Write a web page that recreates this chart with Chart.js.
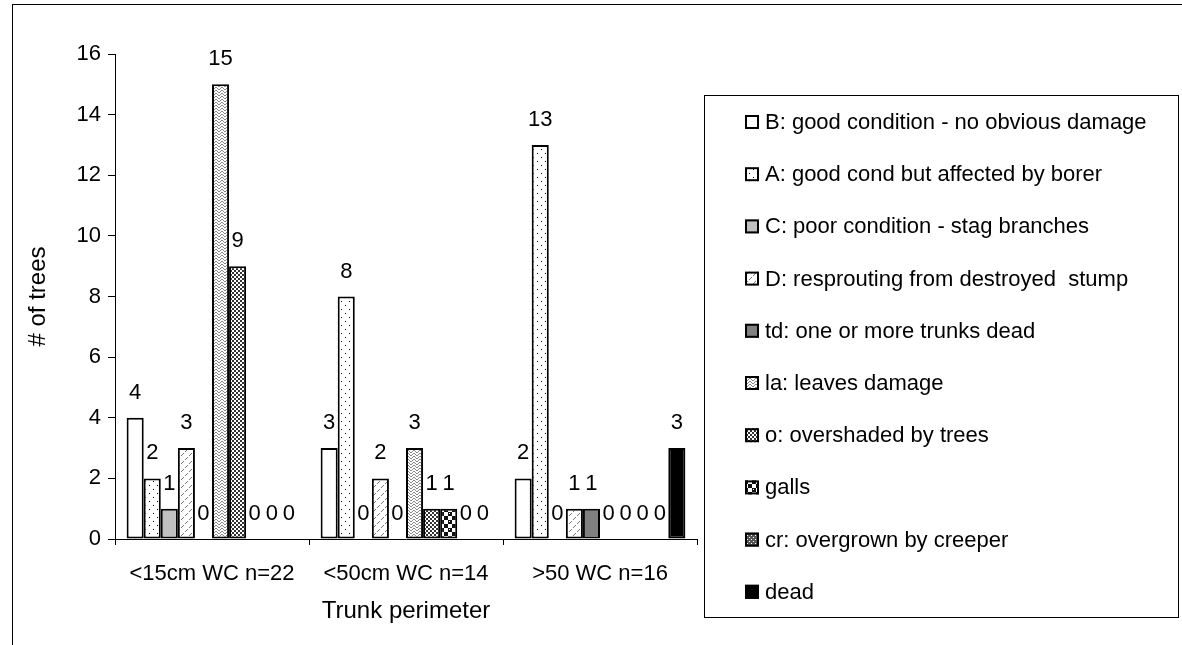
<!DOCTYPE html>
<html>
<head>
<meta charset="utf-8">
<title>Tree condition by trunk perimeter</title>
<script src="https://cdn.jsdelivr.net/npm/chart.js@4.4.1/dist/chart.umd.min.js"></script>
<style>
  body { margin: 0; background: #fff; }
  #wrap { width: 1182px; height: 645px; position: relative; }
</style>
</head>
<body>
<div id="wrap"><canvas id="treeChart"></canvas></div>
<script>
// --- DATA ---
const categories = ['<15cm WC n=22', '<50cm WC n=14', '>50 WC n=16'];
const seriesNames = [
  'B: good condition - no obvious damage',
  'A: good cond but affected by borer',
  'C: poor condition - stag branches',
  'D: resprouting from destroyed  stump',
  'td: one or more trunks dead',
  'la: leaves damage',
  'o: overshaded by trees',
  'galls',
  'cr: overgrown by creeper',
  'dead'
];
const goodCondition = [4, 3, 2];
const borer = [2, 8, 13];
const stagBranches = [1, 0, 0];
const resprouting = [3, 2, 1];
const trunksDead = [0, 0, 1];
const leavesDamage = [15, 3, 0];
const overshaded = [9, 1, 0];
const galls = [0, 1, 0];
const creeper = [0, 0, 0];
const dead = [0, 0, 3];
const yTicks = [0, 2, 4, 6, 8, 10, 12, 14, 16];

const FONT = '"Liberation Sans", Arial, sans-serif';
Chart.defaults.font.family = FONT;
Chart.defaults.color = '#000';

const canvas = document.getElementById('treeChart');
const ctx = canvas.getContext('2d');

// --- FILL PATTERNS (excel-ish) ---
function tile(size, draw) {
  const c = document.createElement('canvas');
  c.width = size; c.height = size;
  const g = c.getContext('2d');
  g.fillStyle = '#fff';
  g.fillRect(0, 0, size, size);
  draw(g);
  return ctx.createPattern(c, 'repeat');
}

const dotted = tile(8, g => {
  g.fillStyle = '#000';
  g.fillRect(1, 1, 1, 1);
  g.fillRect(5, 5, 1, 1);
});
const dashed = tile(8, g => {
  g.strokeStyle = '#777';
  g.lineWidth = 1;
  g.beginPath();
  g.moveTo(1, 4); g.lineTo(4, 1);
  g.moveTo(5, 8); g.lineTo(8, 5);
  g.stroke();
});
const zigzag = tile(6, g => {
  g.strokeStyle = '#888';
  g.lineWidth = 1;
  g.beginPath();
  g.moveTo(0, 0); g.lineTo(3, 3); g.lineTo(6, 0);
  g.moveTo(0, 3); g.lineTo(3, 6); g.lineTo(6, 3);
  g.stroke();
});
const checker = tile(4, g => {
  g.fillStyle = '#333';
  g.fillRect(0, 0, 2, 2);
  g.fillRect(2, 2, 2, 2);
});
const bigChecker = tile(8, g => {
  g.fillStyle = '#111';
  g.fillRect(0, 0, 4, 4);
  g.fillRect(4, 4, 4, 4);
  g.fillStyle = '#fff';
  g.fillRect(1, 1, 1, 1);
});
const fineChecker = tile(4, g => {
  g.fillStyle = '#555';
  g.fillRect(0, 0, 4, 4);
  g.fillStyle = '#fff';
  g.fillRect(1, 1, 1, 1);
  g.fillRect(3, 3, 1, 1);
});

const seriesData = [goodCondition, borer, stagBranches, resprouting, trunksDead,
  leavesDamage, overshaded, galls, creeper, dead];
const seriesFills = ['#fff', dotted, '#c0c0c0', dashed, '#808080',
  zigzag, checker, bigChecker, fineChecker, '#000'];

const datasets = seriesNames.map((name, i) => ({
  label: name,
  data: seriesData[i],
  backgroundColor: seriesFills[i],
  borderColor: '#000',
  borderWidth: 2,
  borderSkipped: false,
  categoryPercentage: 0.88,
  barPercentage: 1.0
}));

// --- PLUGINS ---
const frame = {
  id: 'frame',
  beforeDraw(chart) {
    const c = chart.ctx;
    c.save();
    c.fillStyle = '#fff';
    c.fillRect(0, 0, chart.width, chart.height);
    c.strokeStyle = '#000';
    c.lineWidth = 1;
    c.strokeRect(12.5, 4.5, chart.width + 20, chart.height + 20);
    c.restore();
  }
};

const valueLabels = {
  id: 'valueLabels',
  afterDatasetsDraw(chart) {
    const c = chart.ctx;
    c.save();
    c.font = '22px ' + FONT;
    c.fillStyle = '#000';
    c.textAlign = 'center';
    c.textBaseline = 'middle';
    chart.data.datasets.forEach((ds, i) => {
      chart.getDatasetMeta(i).data.forEach((bar, j) => {
        c.fillText(String(ds.data[j]), bar.x, bar.y - 25);
      });
    });
    c.restore();
  }
};

const boxLegend = {
  id: 'boxLegend',
  afterDraw(chart) {
    const c = chart.ctx;
    c.save();
    c.strokeStyle = '#000';
    c.lineWidth = 1;
    c.strokeRect(704.5, 95.5, 474, 522);
    c.font = '22px ' + FONT;
    c.textBaseline = 'middle';
    chart.data.datasets.forEach((ds, i) => {
      const y = 122 + i * 52.2;
      c.fillStyle = ds.backgroundColor;
      c.fillRect(745, y - 7, 14, 14);
      c.lineWidth = 2;
      c.strokeRect(746, y - 6, 12, 12);
      c.fillStyle = '#000';
      c.fillText(ds.label, 765, y + 1);
    });
    c.restore();
  }
};

// --- CHART ---
new Chart(ctx, {
  type: 'bar',
  data: { labels: categories, datasets },
  options: {
    responsive: true,
    maintainAspectRatio: false,
    animation: false,
    layout: { padding: { left: 0, top: 54, right: 485, bottom: 0 } },
    scales: {
      x: {
        offset: true,
        grid: { display: true, drawOnChartArea: false, offset: true, tickLength: 6, color: '#000' },
        border: { display: true, color: '#000', width: 1 },
        ticks: { color: '#000', font: { size: 22 }, padding: 16, maxRotation: 0, autoSkip: false },
        title: { display: true, text: 'Trunk perimeter', color: '#000', font: { size: 24 }, padding: { top: 0, bottom: 19 } },
        afterFit(scale) { scale.height = 106; }
      },
      y: {
        min: 0,
        max: 16,
        afterBuildTicks(scale) { scale.ticks = yTicks.map(v => ({ value: v })); },
        grid: { drawOnChartArea: false, tickLength: 7, color: '#000' },
        border: { display: true, color: '#000', width: 1 },
        ticks: { color: '#000', font: { size: 22 }, padding: 7 },
        title: { display: true, text: '# of trees', color: '#000', font: { size: 24 }, padding: { top: 24, bottom: 0 } },
        afterFit(scale) { scale.width = 115; }
      }
    },
    plugins: {
      legend: { display: false },
      tooltip: { enabled: false }
    }
  },
  plugins: [frame, valueLabels, boxLegend]
});
</script>
</body>
</html>
